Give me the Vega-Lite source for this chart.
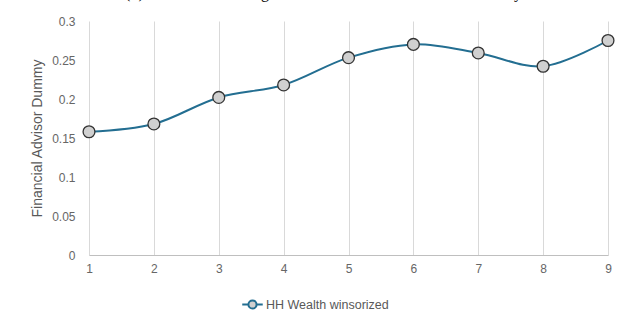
{
  "$schema": "https://vega.github.io/schema/vega-lite/v6.json",
  "width": 519,
  "height": 234,
  "autosize": "none",
  "padding": {"left": 89, "top": 21, "right": 22, "bottom": 66},
  "background": "white",
  "title": {
    "text": "(b) Financial Advising across Household Wealth Decile Study",
    "anchor": "middle",
    "frame": "bounds",
    "baseline": "alphabetic",
    "offset": 6,
    "dy": 5,
    "font": "Liberation Serif",
    "fontSize": 16,
    "fontWeight": "normal",
    "color": "#000000"
  },
  "config": {
    "view": {"stroke": null},
    "font": "Liberation Sans"
  },
  "data": {
    "values": [
      {"decile": 1, "advisor": 0.158, "series": "HH Wealth winsorized"},
      {"decile": 2, "advisor": 0.168, "series": "HH Wealth winsorized"},
      {"decile": 3, "advisor": 0.202, "series": "HH Wealth winsorized"},
      {"decile": 4, "advisor": 0.218, "series": "HH Wealth winsorized"},
      {"decile": 5, "advisor": 0.253, "series": "HH Wealth winsorized"},
      {"decile": 6, "advisor": 0.270, "series": "HH Wealth winsorized"},
      {"decile": 7, "advisor": 0.259, "series": "HH Wealth winsorized"},
      {"decile": 8, "advisor": 0.242, "series": "HH Wealth winsorized"},
      {"decile": 9, "advisor": 0.275, "series": "HH Wealth winsorized"}
    ]
  },
  "encoding": {
    "x": {
      "field": "decile",
      "type": "quantitative",
      "scale": {"domain": [1, 9], "nice": false, "zero": false},
      "axis": {
        "title": null,
        "values": [1, 2, 3, 4, 5, 6, 7, 8, 9],
        "grid": true,
        "gridColor": "#d9d9d9",
        "gridWidth": 1,
        "ticks": false,
        "domainColor": "#bfbfbf",
        "domainWidth": 1,
        "labelColor": "#666666",
        "labelFontSize": 12,
        "labelPadding": 8,
        "labelFlush": false
      }
    },
    "y": {
      "field": "advisor",
      "type": "quantitative",
      "scale": {"domain": [0, 0.3], "nice": false},
      "axis": {
        "title": "Financial Advisor Dummy",
        "titleColor": "#595959",
        "titleFontSize": 14,
        "titleFontWeight": "normal",
        "titlePadding": 7,
        "values": [0, 0.05, 0.1, 0.15, 0.2, 0.25, 0.3],
        "format": ".2~f",
        "grid": false,
        "ticks": false,
        "domain": false,
        "labelColor": "#666666",
        "labelFontSize": 12,
        "labelPadding": 14
      }
    }
  },
  "layer": [
    {
      "mark": {"type": "line", "interpolate": "catmull-rom", "strokeWidth": 2},
      "encoding": {
        "color": {
          "field": "series",
          "type": "nominal",
          "scale": {"domain": ["HH Wealth winsorized"], "range": ["#236e91"]},
          "legend": {
            "title": null,
            "orient": "none",
            "legendX": 152,
            "legendY": 272,
            "symbolType": "M-1,0H-0.4M0.4,0H1M0.4,0A0.4,0.4 0 1,1 -0.4,0A0.4,0.4 0 1,1 0.4,0Z",
            "symbolSize": 420,
            "symbolStrokeWidth": 2,
            "labelColor": "#595959",
            "labelFontSize": 12.5,
            "labelOffset": 2,
            "encode": {
              "symbols": {
                "update": {
                  "fill": {"value": "#d0d0d0"},
                  "stroke": {"value": "#236e91"},
                  "opacity": {"value": 1}
                }
              }
            }
          }
        }
      }
    },
    {
      "mark": {
        "type": "point",
        "shape": "circle",
        "filled": true,
        "size": 140,
        "fill": "#d0d0d0",
        "stroke": "#333333",
        "strokeWidth": 1.3,
        "opacity": 1
      }
    }
  ]
}
